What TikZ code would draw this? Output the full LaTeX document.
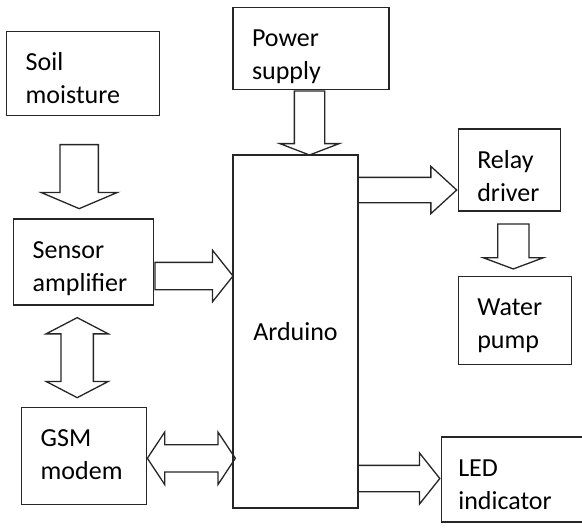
\documentclass[tikz,border=0pt]{standalone}
\usepackage{fontspec}
\setmainfont{Carlito}
\usetikzlibrary{positioning,shapes.arrows}

\begin{document}
\begin{tikzpicture}[
  x=1pt, y=-1pt, font=\fontsize{26}{33}\selectfont,
  b/.style={draw=black!85, line width=1.3pt, align=left,
            inner xsep=19pt, inner ysep=0pt},
  tb/.style={b, minimum height=#1, text height=39pt, text depth=#1-39pt},
  a/.style={single arrow, draw=black!85, line width=1.3pt,
            single arrow head indent=0pt},
  aa/.style={double arrow, draw=black!85, line width=1.3pt,
             double arrow head indent=0pt},
]
\useasboundingbox (0,0) rectangle (582,530);
% Centre block and the boxes round it
\node[b, align=center, inner sep=0pt, minimum width=125pt, minimum height=353pt]
  (ard) at (295.5,331.5) {Arduino};
\node[tb=82pt, text width=118pt, above=64pt of ard, xshift=15.5pt] (pwr) {Power\\supply};
\node[tb=86pt, text width=102pt, left=78pt of ard, yshift=69.5pt] (sns) {Sensor\\amplifier};
\node[tb=84pt, text width=115pt, above=102pt of sns, xshift=-0.5pt] (soil) {Soil\\moisture};
\node[tb=97pt, text width=87pt, below=101pt of sns, xshift=0.5pt] (gsm) {GSM\\modem};
\node[tb=82pt, text width=64pt, right=99pt of ard, yshift=161.5pt] (rly) {Relay\\driver};
\node[tb=88pt, text width=75pt, below=64pt of rly, xshift=5.5pt] (wtr) {Water\\pump};
\node[tb=85pt, inner xsep=17pt, text width=107pt, right=82pt of ard, yshift=-148pt] (led) {LED\\indicator};

% Block arrows
\node[a, shape border rotate=270, minimum height=64pt, inner sep=18.5pt,
      single arrow head extend=19pt, single arrow tip angle=134, anchor=tip]
  (soil2sns) at ([xshift=-4.5pt, yshift=9pt]sns.north) {};
\node[a, shape border rotate=270, minimum height=64pt, inner sep=14.5pt,
      single arrow head extend=14.5pt, single arrow tip angle=138, anchor=tail]
  (pwr2ard) at ([xshift=-1.5pt]pwr.south) {};
\node[a, minimum height=78pt, inner sep=13pt,
      single arrow head extend=12pt, single arrow tip angle=103, anchor=tail]
  (sns2ard) at ([yshift=-14pt]sns.east) {};
\node[a, minimum height=99pt, inner sep=12pt,
      single arrow head extend=11pt, single arrow tip angle=85, anchor=tip]
  (ard2rly) at ([yshift=-20pt]rly.west) {};
\node[a, shape border rotate=270, minimum height=45pt, inner sep=15pt,
      single arrow head extend=14.5pt, single arrow tip angle=139, anchor=tip]
  (rly2wtr) at ([xshift=-1.5pt, yshift=6pt]wtr.north) {};
\node[a, minimum height=82pt, inner sep=12.5pt,
      single arrow head extend=12.5pt, single arrow tip angle=103, anchor=tip]
  (ard2led) at ([yshift=1pt]led.west) {};
% two-way links
\node[aa, shape border rotate=90, minimum height=80pt, inner sep=15.5pt,
      double arrow head extend=15pt, double arrow tip angle=125]
  (sns2gsm) at ([xshift=-6.5pt, yshift=-52pt]sns.south) {};
\node[aa, minimum height=88pt, inner sep=13pt,
      double arrow head extend=12.5pt, double arrow tip angle=113]
  (gsm2ard) at ([xshift=44pt, yshift=-2.5pt]gsm.east) {};
\end{tikzpicture}
\end{document}
